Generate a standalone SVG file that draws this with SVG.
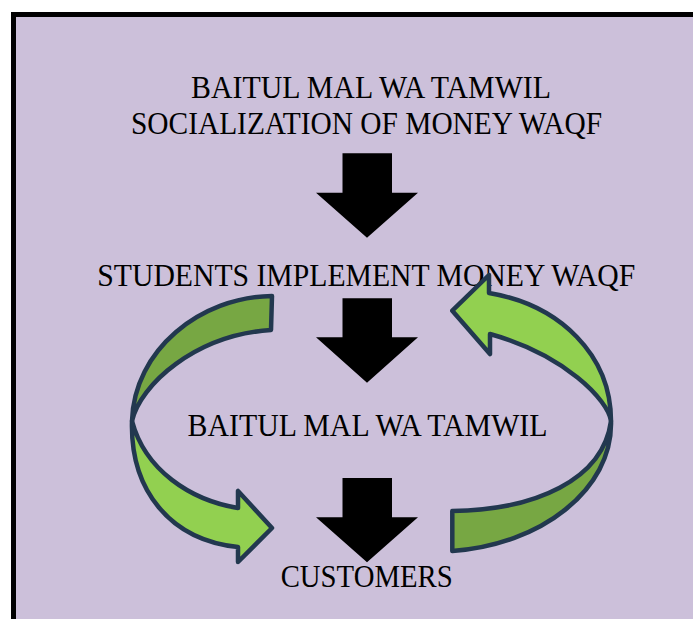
<svg xmlns="http://www.w3.org/2000/svg" width="693" height="619" viewBox="0 0 693 619">
  <style>
    .panel { fill: #CCC0DA; stroke: #000000; stroke-width: 5; }
    .label { font-family: "Liberation Serif", "Times New Roman", serif; font-size: 30.5px; fill: #000000; }
    .flow { fill: #000000; }
    .cycle { stroke: #22384F; stroke-width: 4.5; stroke-linejoin: round; }
    .cycle-front { fill: #92D050; }
    .cycle-back { fill: #77A743; }
  </style>

  <!-- background panel, running past the right and bottom edges -->
  <rect class="panel" x="13.5" y="14.5" width="700" height="620"/>

  <!-- text nodes -->
  <g id="node-socialization">
    <text class="label" x="191" y="98" textLength="360" lengthAdjust="spacingAndGlyphs">BAITUL MAL WA TAMWIL</text>
    <text class="label" x="131" y="133.5" textLength="471" lengthAdjust="spacingAndGlyphs">SOCIALIZATION OF MONEY WAQF</text>
  </g>
  <g id="node-students">
    <text class="label" x="97.3" y="285.7" textLength="538" lengthAdjust="spacingAndGlyphs">STUDENTS IMPLEMENT MONEY WAQF</text>
  </g>
  <g id="node-bmt">
    <text class="label" x="187.5" y="435.5" textLength="360" lengthAdjust="spacingAndGlyphs">BAITUL MAL WA TAMWIL</text>
  </g>
  <g id="node-customers">
    <text class="label" x="280.7" y="586.7" textLength="172" lengthAdjust="spacingAndGlyphs">CUSTOMERS</text>
  </g>

  <!-- connectors -->
  <g id="connectors">
    <!-- straight downward flow arrows -->
    <path class="flow" d="M342.5,153.3 H392 V192.7 H418 L367,237.7 L316,192.7 H342.5 Z"/>
    <path class="flow" d="M342.5,298.3 H392 V337.3 H418 L367,382.7 L316,337.3 H342.5 Z"/>
    <path class="flow" d="M342.5,478 H392 V517.3 H418 L367,562.3 L316,517.3 H342.5 Z"/>

    <!-- left circular arrow: tail at the top, head pointing to customers -->
    <g id="cycle-left">
      <path class="cycle cycle-back" d="M272,296 C200,297 134,350 132,421 C140,385 195,335 271,330 Z"/>
      <path class="cycle cycle-front" d="M132,421 C130,490 170,540 238,547 L238,562 L272,528 L238,491 L238,508 C190,500 145,470 132,421 Z"/>
    </g>

    <!-- right circular arrow: tail at the bottom, head pointing back up -->
    <g id="cycle-right">
      <path class="cycle cycle-back" d="M611,421 C613,490 540,545 452.3,551 L452.3,511 C535,510 603,480 611,421 Z"/>
      <path class="cycle cycle-front" d="M611,421 C611,355 560,305 489,293 L489,275 L452.3,310.7 L490,354 L490,334 C565,355 608,400 611,421 Z"/>
    </g>
  </g>
</svg>
